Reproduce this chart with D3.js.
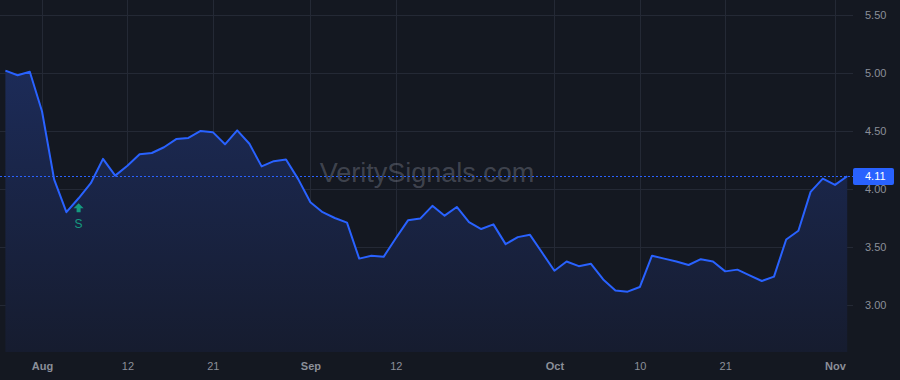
<!DOCTYPE html>
<html>
<head>
<meta charset="utf-8">
<script src="https://cdn.jsdelivr.net/npm/d3@7"></script>
<style>
  html, body { margin: 0; padding: 0; background: #141821; }
  svg { display: block; font-family: 'Liberation Sans', Arial, sans-serif; }
</style>
</head>
<body>
<svg id="chart" width="900" height="380"></svg>
<script>
// trading days, Jul 29 - Nov 4 2024
const dates = [
  '2024-07-29', '2024-07-30', '2024-07-31',
  '2024-08-01', '2024-08-02', '2024-08-05', '2024-08-06', '2024-08-07', '2024-08-08', '2024-08-09',
  '2024-08-12', '2024-08-13', '2024-08-14', '2024-08-15', '2024-08-16', '2024-08-19', '2024-08-20',
  '2024-08-21', '2024-08-22', '2024-08-23', '2024-08-26', '2024-08-27', '2024-08-28', '2024-08-29',
  '2024-08-30',
  '2024-09-03', '2024-09-04', '2024-09-05', '2024-09-06', '2024-09-09', '2024-09-10', '2024-09-11',
  '2024-09-12', '2024-09-13', '2024-09-16', '2024-09-17', '2024-09-18', '2024-09-19', '2024-09-20',
  '2024-09-23', '2024-09-24', '2024-09-25', '2024-09-26', '2024-09-27', '2024-09-30',
  '2024-10-01', '2024-10-02', '2024-10-03', '2024-10-04', '2024-10-07', '2024-10-08', '2024-10-09',
  '2024-10-10', '2024-10-11', '2024-10-14', '2024-10-15', '2024-10-16', '2024-10-17', '2024-10-18',
  '2024-10-21', '2024-10-22', '2024-10-23', '2024-10-24', '2024-10-25', '2024-10-28', '2024-10-29',
  '2024-10-30', '2024-10-31',
  '2024-11-01', '2024-11-04',
]

const prices = [
  5.02, 4.98, 5.01,
  4.67, 4.08, 3.80, 3.92, 4.05, 4.26, 4.115,
  4.20, 4.30, 4.31, 4.36, 4.43, 4.44, 4.50,
  4.49, 4.385, 4.505, 4.39, 4.195, 4.24, 4.255,
  4.085,
  3.885, 3.80, 3.75, 3.71, 3.40, 3.425, 3.415,
  3.575, 3.73, 3.745, 3.855, 3.77, 3.845, 3.715,
  3.655, 3.695, 3.525, 3.585, 3.605, 3.45,
  3.295, 3.375, 3.335, 3.355, 3.22, 3.125, 3.115,
  3.155, 3.425, 3.40, 3.375, 3.345, 3.395, 3.375,
  3.29, 3.305, 3.255, 3.207, 3.245, 3.565, 3.64,
  3.975, 4.09,
  4.035, 4.11,
]

const xTickDates = ['2024-08-01', '2024-08-12', '2024-08-21', '2024-09-03', '2024-09-12',
  '2024-10-01', '2024-10-10', '2024-10-21', '2024-11-01']
const xTickLabels = ['Aug', '12', '21', 'Sep', '12', 'Oct', '10', '21', 'Nov']
const monthLabels = ['Aug', 'Sep', 'Oct', 'Nov']

const yTicks = [3.0, 3.5, 4.0, 4.5, 5.0, 5.5]

const lastPrice = 4.11
const signalDate = '2024-08-06'
const watermark = 'VeritySignals.com'

const plotRight = 853
const plotBottom = 352

const svg = d3.select('#chart')

const x = d3.scalePoint().domain(dates).range([5.4, 847.2])
const y = d3.scaleLinear().domain([2.595, 5.629]).range([plotBottom, 0])

const defs = svg.append('defs')
const grad = defs.append('linearGradient')
  .attr('id', 'areaFill')
  .attr('x1', 0).attr('x2', 0).attr('y1', 0).attr('y2', 1)
grad.append('stop').attr('offset', '0%').attr('stop-color', '#1c2b58')
grad.append('stop').attr('offset', '100%').attr('stop-color', '#161c2f')

// grid
svg.append('g')
  .attr('stroke', '#242935')
  .attr('stroke-width', 1)
  .selectAll('line')
  .data(yTicks)
  .join('line')
  .attr('x1', 0)
  .attr('x2', plotRight)
  .attr('y1', d => Math.round(y(d)) + 0.5)
  .attr('y2', d => Math.round(y(d)) + 0.5)

svg.append('g')
  .attr('stroke', '#242935')
  .attr('stroke-width', 1)
  .selectAll('line')
  .data(xTickDates)
  .join('line')
  .attr('x1', d => Math.round(x(d)) + 0.5)
  .attr('x2', d => Math.round(x(d)) + 0.5)
  .attr('y1', 0)
  .attr('y2', plotBottom)

const data = dates.map((d, i) => ({date: d, value: prices[i]}))

const area = d3.area()
  .x(d => x(d.date))
  .y0(plotBottom)
  .y1(d => y(d.value))

svg.append('path')
  .datum(data)
  .attr('fill', 'url(#areaFill)')
  .attr('d', area)

// watermark
svg.append('text')
  .attr('x', 427)
  .attr('y', 182)
  .attr('text-anchor', 'middle')
  .attr('font-size', 27)
  .attr('fill', 'rgba(170,175,190,0.3)')
  .text(watermark)

const line = d3.line()
  .x(d => x(d.date))
  .y(d => y(d.value))

svg.append('path')
  .datum(data)
  .attr('fill', 'none')
  .attr('stroke', '#2962ff')
  .attr('stroke-width', 2)
  .attr('stroke-linejoin', 'round')
  .attr('d', line)

// last price line
svg.append('line')
  .attr('x1', 0)
  .attr('x2', plotRight)
  .attr('y1', Math.round(y(lastPrice)) + 0.5)
  .attr('y2', Math.round(y(lastPrice)) + 0.5)
  .attr('stroke', '#2962ff')
  .attr('stroke-width', 1)
  .attr('stroke-dasharray', '2,2')

// signal marker
const sx = x(signalDate)
const sy = y(prices[dates.indexOf(signalDate)])
const marker = svg.append('g').attr('fill', '#159a80')
marker.append('path')
  .attr('d', `M${sx},${sy + 5} l5,5 h-3 v4 h-4 v-4 h-3 z`)
marker.append('text')
  .attr('x', sx)
  .attr('y', sy + 30)
  .attr('text-anchor', 'middle')
  .attr('font-size', 12)
  .text('S')

// right axis
const yAxis = d3.axisRight(y)
  .tickValues(yTicks)
  .tickSize(0)
  .tickPadding(0)
  .tickFormat(d3.format('.2f'))

svg.append('g')
  .attr('transform', 'translate(865, 0)')
  .call(yAxis)
  .call(g => g.select('.domain').remove())
  .call(g => g.selectAll('text')
    .attr('fill', '#8b8f99')
    .attr('font-size', 11)
    .attr('font-family', 'Liberation Sans, Arial, sans-serif'))

// last price badge
const py = y(lastPrice)
svg.append('rect')
  .attr('x', 853)
  .attr('y', Math.round(py) - 8)
  .attr('width', 41)
  .attr('height', 17)
  .attr('rx', 2)
  .attr('fill', '#2962ff')
svg.append('text')
  .attr('x', 865)
  .attr('y', py)
  .attr('dy', '0.35em')
  .attr('font-size', 11)
  .attr('fill', '#ffffff')
  .text(d3.format('.2f')(lastPrice))

// bottom axis
const xAxis = d3.axisBottom(x)
  .tickValues(xTickDates)
  .tickSize(0)
  .tickPadding(0)
  .tickFormat((d, i) => xTickLabels[i])

svg.append('g')
  .attr('transform', 'translate(0, 362)')
  .call(xAxis)
  .call(g => g.select('.domain').remove())
  .call(g => g.selectAll('text')
    .attr('fill', '#8b8f99')
    .attr('font-size', 11)
    .attr('font-family', 'Liberation Sans, Arial, sans-serif')
    .attr('font-weight', (d, i) => monthLabels.includes(xTickLabels[i]) ? 'bold' : 'normal'))
</script>
</body>
</html>
